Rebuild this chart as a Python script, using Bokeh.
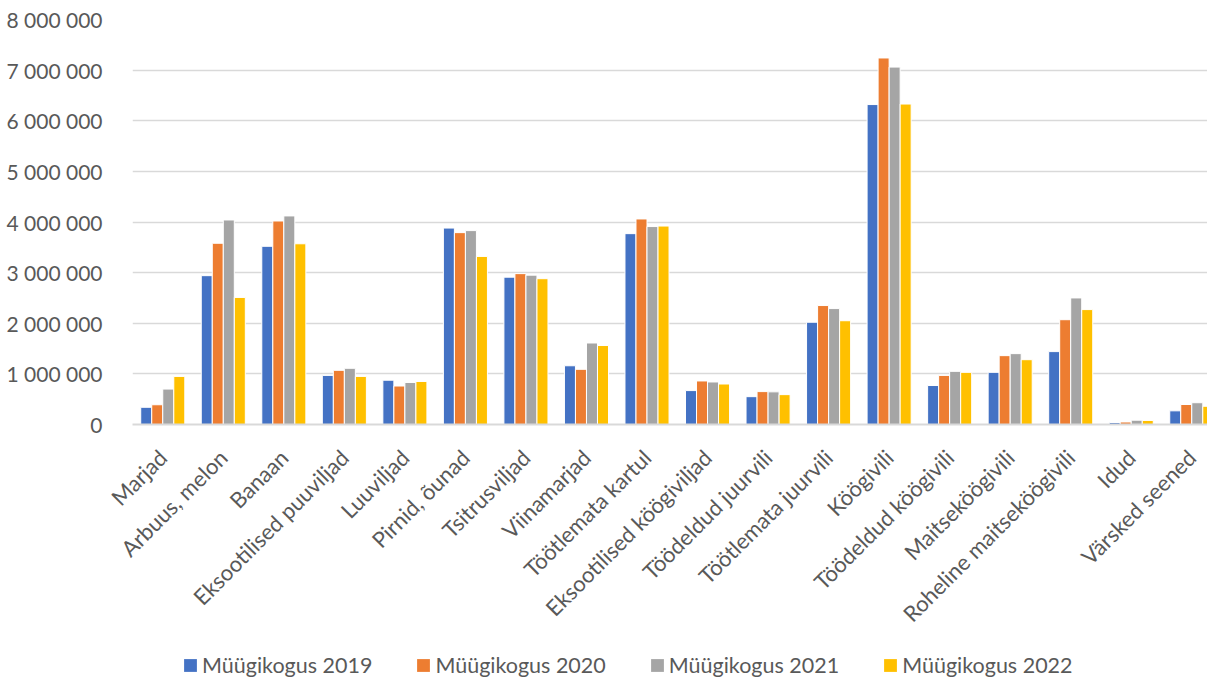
from bokeh.plotting import figure
from bokeh.models import Range1d, FixedTicker, Legend, LegendItem, ColumnDataSource
from bokeh.layouts import column
from bokeh.embed import file_html
from bokeh.resources import INLINE
import math

categories = ["Marjad", "Arbuus, melon", "Banaan", "Eksootilised puuviljad", "Luuviljad",
              "Pirnid, õunad", "Tsitrusviljad", "Viinamarjad", "Töötlemata kartul",
              "Eksootilised köögiviljad", "Töödeldud juurvili", "Töötlemata juurvili",
              "Köögivili", "Töödeldud köögivili", "Maitseköögivili", "Roheline maitseköögivili",
              "Idud", "Värsked seened"]

s2019 = [340000, 2940000, 3520000, 970000, 875000, 3880000, 2910000, 1160000, 3770000,
         670000, 550000, 2020000, 6320000, 770000, 1030000, 1440000, 40000, 270000]
s2020 = [390000, 3580000, 4020000, 1070000, 760000, 3790000, 2980000, 1090000, 4060000,
         860000, 650000, 2350000, 7240000, 970000, 1360000, 2070000, 50000, 395000]
s2021 = [700000, 4040000, 4120000, 1110000, 830000, 3830000, 2950000, 1610000, 3910000,
         840000, 645000, 2290000, 7060000, 1050000, 1400000, 2500000, 85000, 430000]
s2022 = [950000, 2510000, 3570000, 950000, 850000, 3320000, 2880000, 1560000, 3920000,
         800000, 590000, 2050000, 6330000, 1030000, 1280000, 2270000, 80000, 360000]

series_names = ["Müügikogus 2019", "Müügikogus 2020", "Müügikogus 2021", "Müügikogus 2022"]
series_values = [s2019, s2020, s2021, s2022]
colors = ["#4472C4", "#ED7D31", "#A5A5A5", "#FFC000"]

y_ticks = [0, 1000000, 2000000, 3000000, 4000000, 5000000, 6000000, 7000000, 8000000]
y_tick_labels = ["0", "1 000 000", "2 000 000", "3 000 000", "4 000 000",
                 "5 000 000", "6 000 000", "7 000 000", "8 000 000"]

FONT = "Lato"
TXT = "#595959"

p = figure(width=1207, height=646, output_backend="svg", toolbar_location=None,
           x_range=Range1d(-0.5, -0.5 + 1075 / 60.53), y_range=Range1d(0, 8000000),
           min_border_left=132, min_border_right=0, min_border_top=19, min_border_bottom=222)
p.outline_line_color = None
p.background_fill_color = "white"
p.border_fill_color = "white"

offsets = [-0.273, -0.091, 0.091, 0.273]
bar_w = 0.182
idx = list(range(len(categories)))
sources = []
for name, vals, col, off in zip(series_names, series_values, colors, offsets):
    src = ColumnDataSource(dict(x=[i + off for i in idx], top=vals))
    sources.append(src)
    p.vbar(x="x", top="top", width=bar_w, bottom=0, source=src,
           fill_color=col, line_color="white", line_width=1)

p.xgrid.visible = False
p.ygrid.grid_line_color = "#d9d9d9"
p.ygrid.grid_line_width = 1.5
p.ygrid.ticker = FixedTicker(ticks=y_ticks)

p.yaxis.ticker = FixedTicker(ticks=y_ticks)
p.yaxis.major_label_overrides = {t: l for t, l in zip(y_ticks, y_tick_labels)}
p.yaxis.axis_line_color = None
p.yaxis.major_tick_line_color = None
p.yaxis.minor_tick_line_color = None
p.yaxis.major_label_standoff = 24
p.yaxis.major_label_text_font = FONT
p.yaxis.major_label_text_font_size = "21px"
p.yaxis.major_label_text_color = TXT

p.xaxis.ticker = FixedTicker(ticks=idx)
p.xaxis.major_label_overrides = {i: c for i, c in zip(idx, categories)}
p.xaxis.major_label_orientation = math.pi / 4
p.xaxis.axis_line_color = "#d9d9d9"
p.xaxis.axis_line_width = 2
p.xaxis.major_tick_line_color = None
p.xaxis.minor_tick_line_color = None
p.xaxis.major_label_standoff = 23
p.xaxis.major_label_text_font = FONT
p.xaxis.major_label_text_font_size = "22px"
p.xaxis.major_label_text_color = TXT

# legend strip below the chart (its bars lie outside its visible range)
lf = figure(width=1207, height=33, output_backend="svg", toolbar_location=None,
            x_axis_type=None, y_axis_type=None, min_border=0,
            x_range=Range1d(-100, -99), y_range=Range1d(0, 1))
lf.outline_line_color = None
lf.border_fill_color = "white"
lf.background_fill_color = "white"
leg_renderers = []
for src, col in zip(sources, colors):
    r = lf.vbar(x="x", top="top", width=bar_w, bottom=0, source=src,
                fill_color=col, line_color=None)
    leg_renderers.append(r)

legend = Legend(items=[LegendItem(label=n, renderers=[r]) for n, r in zip(series_names, leg_renderers)],
                orientation="horizontal", location=(50, 1))
legend.glyph_width = 16
legend.glyph_height = 16
legend.label_standoff = 4
legend.spacing = 43
legend.label_width = 170
legend.padding = 0
legend.margin = 0
legend.border_line_color = None
legend.background_fill_alpha = 0
legend.label_text_font = FONT
legend.label_text_font_size = "21.5px"
legend.label_text_color = TXT
lf.add_layout(legend, "center")

layout = column(p, lf, spacing=0)
open("out.html", "w").write(file_html(layout, INLINE))
